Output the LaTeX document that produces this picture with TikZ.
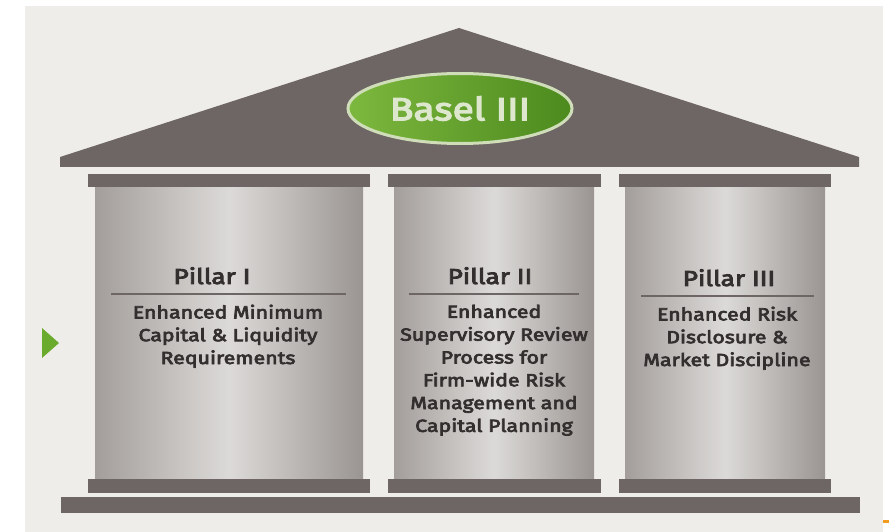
\documentclass[tikz,border=0pt]{standalone}
\usepackage{fontspec}
\setmainfont{Fira Sans}[FakeStretch=1.22, FakeBold=4]
\usetikzlibrary{positioning, shapes.geometric}
\definecolor{panelgrey}{HTML}{EFEDEA}
\definecolor{roofgrey}{HTML}{6E6664}
\definecolor{shaftedge}{HTML}{A39E9C}
\definecolor{shaftlight}{HTML}{DCDAD8}
\definecolor{shaftdark}{HTML}{9A9592}
\definecolor{textgrey}{HTML}{332F2F}
\definecolor{basellight}{HTML}{7DB83E}
\definecolor{baseldark}{HTML}{4C8A1E}
\definecolor{rimgreen}{HTML}{CFDDB8}
\definecolor{markgreen}{HTML}{6AAA2C}
\definecolor{markorange}{HTML}{F39C1F}
\tikzset{every node/.style={inner sep=0pt, outer sep=0pt}, % Nodes sit exactly on their boxes
shaft/.style={ % The body of a pillar
left color=shaftedge, right color=shaftdark, middle color=shaftlight,
minimum height=292pt},
slab/.style={ % Caps, feet and the base
fill=roofgrey},
rule/.style={ % Line under the pillar names
fill=roofgrey, minimum height=1.5pt},
heading/.style={
font=\fontsize{21.5}{26}\selectfont, text=textgrey},
body/.style={
font=\fontsize{17.5}{22.8}\selectfont, text=textgrey, align=center},
badge/.style={ % Green oval on the roof
ellipse, draw=rimgreen, line width=3pt,
left color=basellight, right color=baseldark,
minimum width=224pt, minimum height=70pt,
font=\fontsize{32}{36}\selectfont, text=rimgreen!70!white}}

\begin{document}
\begin{tikzpicture}[x=1pt,y=-1pt]
    \useasboundingbox (0,0) rectangle (889,532);
    \fill[white] (0,0) rectangle (889,532);
    \fill[panelgrey] (25,6) rectangle (883,532);
    % roof
    \fill[roofgrey] (60,167) -- (60,157) -- (459,28) -- (859,157) -- (859,167) -- cycle;
    \node[badge] (basel) at (460,108.5) {Basel III};
    % pillars
    \node[shaft, minimum width=268pt] (shaft1) at (229,333) {};
    \node[shaft, minimum width=200pt] (shaft2) at (494,333) {};
    \node[shaft, minimum width=200pt] (shaft3) at (725,333) {};
    \node[slab, minimum width=282pt, minimum height=13pt, above=0pt of shaft1] (top1) {};
    \node[slab, minimum width=213pt, minimum height=13pt, above=0pt of shaft2] (top2) {};
    \node[slab, minimum width=212pt, minimum height=13pt, above=0pt of shaft3] (top3) {};
    \node[slab, minimum width=282pt, minimum height=14pt, below=0pt of shaft1] (foot1) {};
    \node[slab, minimum width=213pt, minimum height=14pt, below=0pt of shaft2] (foot2) {};
    \node[slab, minimum width=212pt, minimum height=14pt, below=0pt of shaft3] (foot3) {};
    \node[slab, minimum width=799pt, minimum height=16pt] (base) at (460.5,505) {};
    % texts
    \node[rule, minimum width=235pt] (rule1) at (228,294) {};
    \node[rule, minimum width=170pt] (rule2) at (494,294) {};
    \node[rule, minimum width=173pt] (rule3) at (727,296) {};
    \node[heading, above=9pt of rule1, xshift=-16pt] (name1) {Pillar I};
    \node[heading, above=9pt of rule2, xshift=-4pt] (name2) {Pillar II};
    \node[heading, above=9pt of rule3, xshift=2pt] (name3) {Pillar III};
    \node[body, below=10pt of rule1] (text1) {Enhanced Minimum\\Capital \& Liquidity\\Requirements};
    \node[body, below=10pt of rule2] (text2) {Enhanced\\Supervisory Review\\Process for\\Firm-wide Risk\\Management and\\Capital Planning};
    \node[body, below=10pt of rule3] (text3) {Enhanced Risk\\Disclosure \&\\Market Discipline};
    % marks at the edges
    \fill[markgreen] (42,328) -- (42,358) -- (59,343) -- cycle;
    \fill[markorange] (883,520) rectangle (889,523);
    
    \end{tikzpicture}
\end{document}
